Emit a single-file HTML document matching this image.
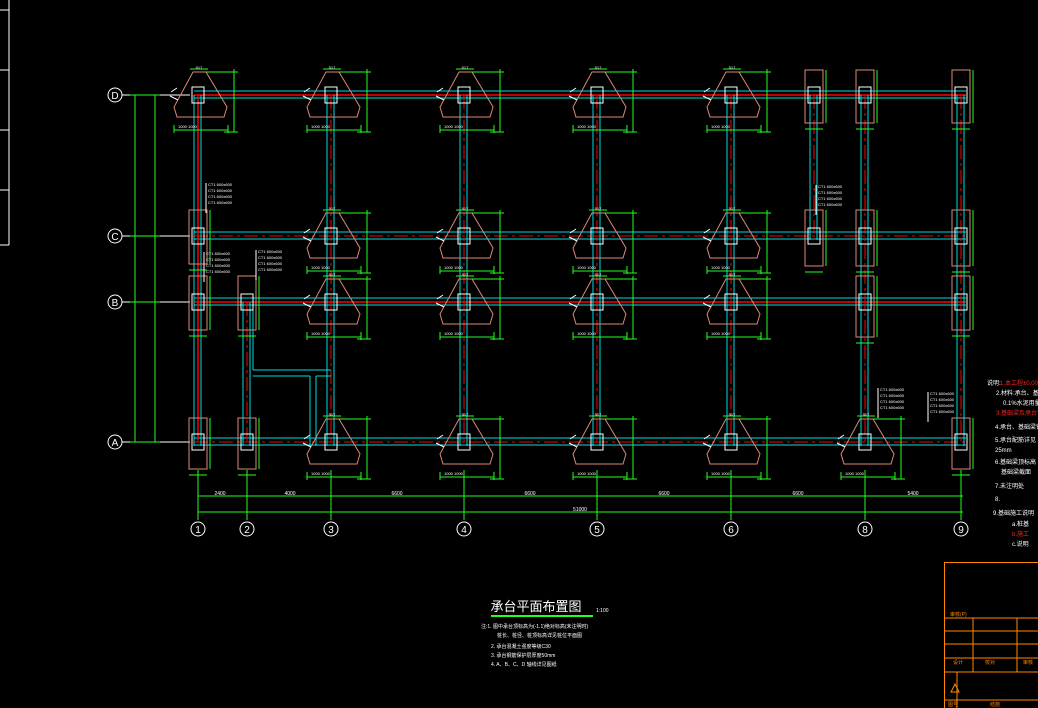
<!DOCTYPE html>
<html><head><meta charset="utf-8"><style>
html,body{margin:0;padding:0;background:#000;width:1038px;height:708px;overflow:hidden}
svg{display:block}
text{font-family:"Liberation Sans","Noto Sans CJK SC",sans-serif}
</style></head><body>
<svg id="s" width="1038" height="708" viewBox="0 0 1038 708" xmlns="http://www.w3.org/2000/svg">
<rect width="1038" height="708" fill="#000"/>
<g stroke="#fff" stroke-width="1">
<line x1="9" y1="0" x2="9" y2="245"/>
<line x1="0" y1="10" x2="9" y2="10"/><line x1="0" y1="70" x2="9" y2="70"/><line x1="0" y1="130" x2="9" y2="130"/><line x1="0" y1="190" x2="9" y2="190"/><line x1="0" y1="245" x2="9" y2="245"/>
</g>
<g id="g"></g>
<!-- bubbles -->
<g fill="none" stroke="#fff" stroke-width="1">
<circle cx="115" cy="95" r="7"/><circle cx="115" cy="236" r="7"/><circle cx="115" cy="302" r="7"/><circle cx="115" cy="442" r="7"/>
<circle cx="198" cy="529" r="7"/><circle cx="247" cy="529" r="7"/><circle cx="331" cy="529" r="7"/><circle cx="464" cy="529" r="7"/><circle cx="597" cy="529" r="7"/><circle cx="731" cy="529" r="7"/><circle cx="865" cy="529" r="7"/><circle cx="961" cy="529" r="7"/>
</g>
<g fill="#fff" font-size="10" text-anchor="middle">
<text x="115" y="99">D</text><text x="115" y="240">C</text><text x="115" y="306">B</text><text x="115" y="446">A</text>
<text x="198" y="533">1</text><text x="247" y="533">2</text><text x="331" y="533">3</text><text x="464" y="533">4</text><text x="597" y="533">5</text><text x="731" y="533">6</text><text x="865" y="533">8</text><text x="961" y="533">9</text>
</g>
<g fill="#fff" font-size="5" text-anchor="middle">
<text x="220" y="495">2400</text><text x="290" y="495">4000</text><text x="397" y="495">6600</text><text x="530" y="495">6600</text><text x="664" y="495">6600</text><text x="798" y="495">6600</text><text x="913" y="495">5400</text>
<text x="580" y="511">51000</text>
</g>
<!-- title -->
<text x="536" y="611" fill="#fff" font-size="13" font-family="'Noto Sans CJK SC',sans-serif" text-anchor="middle">承台平面布置图</text>
<line x1="491" y1="616" x2="593" y2="616" stroke="#2f2" stroke-width="2"/>
<text x="596" y="612" fill="#fff" font-size="5">1:100</text>
<g fill="#fff" font-size="5" font-family="'Noto Sans CJK SC',sans-serif">
<text x="481" y="628">注:1. 图中承台顶标高为(-1.1)绝对标高(未注明时)</text>
<text x="497" y="637">桩长、桩径、桩顶标高详见桩位平面图</text>
<text x="491" y="648">2. 承台混凝土强度等级C30</text>
<text x="491" y="657">3. 承台钢筋保护层厚度50mm</text>
<text x="491" y="666">4. A、B、C、D 轴线详见图纸</text>
</g>
<!-- notes right -->
<g font-size="6" font-family="'Noto Sans CJK SC',sans-serif">
<text x="987" y="385" fill="#fff">说明:</text><text x="1000" y="385" fill="#f22">1.本工程±0.000相</text>
<text x="996" y="395" fill="#fff">2.材料:承台、基础梁</text>
<text x="1003" y="405" fill="#fff">0.1%水泥用量</text>
<text x="996" y="415" fill="#f22">3.基础梁及承台钢筋</text>
<text x="995" y="429" fill="#fff">4.承台、基础梁钢筋</text>
<text x="995" y="442" fill="#fff">5.承台配筋详见</text>
<text x="995" y="452" fill="#fff">25mm</text>
<text x="995" y="464" fill="#fff">6.基础梁顶标高</text>
<text x="1001" y="474" fill="#fff">基础梁截面</text>
<text x="995" y="488" fill="#fff">7.未注明处</text>
<text x="995" y="501" fill="#fff">8.</text>
<text x="993" y="515" fill="#fff">9.基础施工说明</text>
<text x="1012" y="526" fill="#fff">a.桩基</text>
<text x="1012" y="536" fill="#f22">b.施工</text>
<text x="1012" y="546" fill="#fff">c.说明</text>
</g>
<!-- title block -->
<g stroke="#f80" stroke-width="1" fill="none">
<rect x="944.5" y="562.5" width="100" height="150"/>
<line x1="944" y1="618" x2="1038" y2="618"/><line x1="944" y1="631" x2="1038" y2="631"/><line x1="944" y1="644" x2="1038" y2="644"/><line x1="944" y1="658" x2="1038" y2="658"/><line x1="944" y1="672" x2="1038" y2="672"/><line x1="944" y1="700" x2="1038" y2="700"/>
<line x1="973" y1="618" x2="973" y2="672"/><line x1="1017" y1="618" x2="1017" y2="672"/><line x1="957" y1="672" x2="957" y2="708"/>
<path d="M951 692 L955 684 L959 692 Z"/>
</g>
<g fill="#f80" font-size="5"><text x="950" y="616">审核(P)</text><text x="953" y="664">设计</text><text x="985" y="664">校对</text><text x="1023" y="664">审核</text><text x="948" y="706">图号</text><text x="990" y="706">结施</text></g>
<script>
(function(){
var g=document.getElementById('g'),N='http://www.w3.org/2000/svg';
function el(t,a){var e=document.createElementNS(N,t);for(var k in a)e.setAttribute(k,a[k]);g.appendChild(e);return e;}
function L(x1,y1,x2,y2,c,w,d){var a={x1:x1,y1:y1,x2:x2,y2:y2,stroke:c,'stroke-width':w||1};if(d)a['stroke-dasharray']=d;el('line',a);}
var X=[198,247,331,464,597,731,814,865,961],Y=[95,236,302,442];
// green axis lines / dims
L(155,95,155,442,'#2f2');L(135,95,135,442,'#2f2');
L(198,496,963,496,'#2f2');L(198,512,963,512,'#2f2');
[198,247,331,464,597,731,865,961].forEach(function(x){L(x,470,x,520,'#2f2');});
[95,236,302,442].forEach(function(y){L(122,y,190,y,'#fff');L(130,y,160,y,'#2f2');});
// beams
function hb(y,x1,x2,red){L(x1,y-4,x2,y-4,'#0dd');L(x1,y+3,x2,y+3,'#0dd');L(x1,y,x2,y,'#f00',red?1.5:1,red?'':'14 4 3 4');}
function vb(x,y1,y2){L(x-4,y1,x-4,y2,'#0dd');L(x+3,y1,x+3,y2,'#0dd');L(x,y1,x,y2,'#f00',1,'14 4 3 4');}
hb(95,194,966,1);hb(236,194,966,0);hb(302,194,966,1);hb(442,194,966,0);
L(198,99,198,440,'#f00',1.5);
[198,331,464,597,731,961].forEach(function(x){vb(x,95,446);});
vb(865,95,446);vb(814,95,240);vb(247,302,446);
L(253,310,253,370,'#0dd');L(253,370,331,370,'#0dd');L(253,376,310,376,'#0dd');L(310,376,310,446,'#0dd');L(316,376,331,376,'#0dd');L(316,376,316,446,'#0dd');
// caps
function cap(x,y){
 el('polygon',{points:[x-5,y-23,x+8,y-23,x+29,y+12,x+26,y+22,x-21,y+22,x-24,y+12].join(' '),fill:'none',stroke:'#d87','stroke-width':1});
 L(x+8,y-23,x+40,y-23,'#2f2');L(x+36,y-26,x+36,y+37,'#2f2');L(x+26,y+37,x+40,y+37,'#2f2');
 L(x-24,y+35,x+30,y+35,'#2f2');L(x-24,y+30,x-24,y+38,'#2f2');L(x+30,y+30,x+30,y+38,'#2f2');L(x-8,y-26,x+10,y-26,'#2f2');
 el('path',{d:'M'+(x-27)+' '+(y-3)+' l6 -4 M'+(x-28)+' '+(y+1)+' l8 4',stroke:'#fff',fill:'none'});
 var t=el('text',{x:x-20,y:y+33,fill:'#fff','font-size':4});t.textContent='1000 1000';
 var t2=el('text',{x:x+1,y:y-26,fill:'#fff','font-size':4,'text-anchor':'middle'});t2.textContent='517';
}
[331,464,597,731].forEach(function(x){cap(x,95);cap(x,236);cap(x,302);cap(x,442);});
cap(198,95);cap(865,442);
function pier(x,y,h1,h2){el('rect',{x:x-9,y:y-h1,width:18,height:h1+h2,fill:'none',stroke:'#d87'});
 L(x+12,y-h1,x+12,y+h2,'#2f2');L(x-9,y+h2+6,x+9,y+h2+6,'#2f2');}
pier(198,236,26,28);pier(198,302,26,28);pier(198,442,24,27);pier(247,302,26,28);pier(247,442,24,27);
pier(814,95,25,28);pier(865,95,25,28);pier(961,95,25,28);pier(814,236,26,30);pier(865,236,26,30);pier(961,236,26,30);
pier(865,302,26,35);pier(961,302,26,28);pier(961,442,24,27);
// column boxes
X.forEach(function(x){Y.forEach(function(y){
 if(x==247&&y<300)return; if(x==814&&y>240)return;
 el('rect',{x:x-6,y:y-8,width:12,height:16,fill:'none',stroke:'#fff'});});});
// leader notes
[[206,183],[256,250],[204,252],[816,185],[878,388],[928,392]].forEach(function(p){
 L(p[0],p[1],p[0],p[1]+30,'#fff');
 for(var i=0;i<4;i++){var t=el('text',{x:p[0]+2,y:p[1]+3+i*6,fill:'#fff','font-size':4});t.textContent='CT1 600x600';}
});
})();
</script>
</svg>
</body></html>
